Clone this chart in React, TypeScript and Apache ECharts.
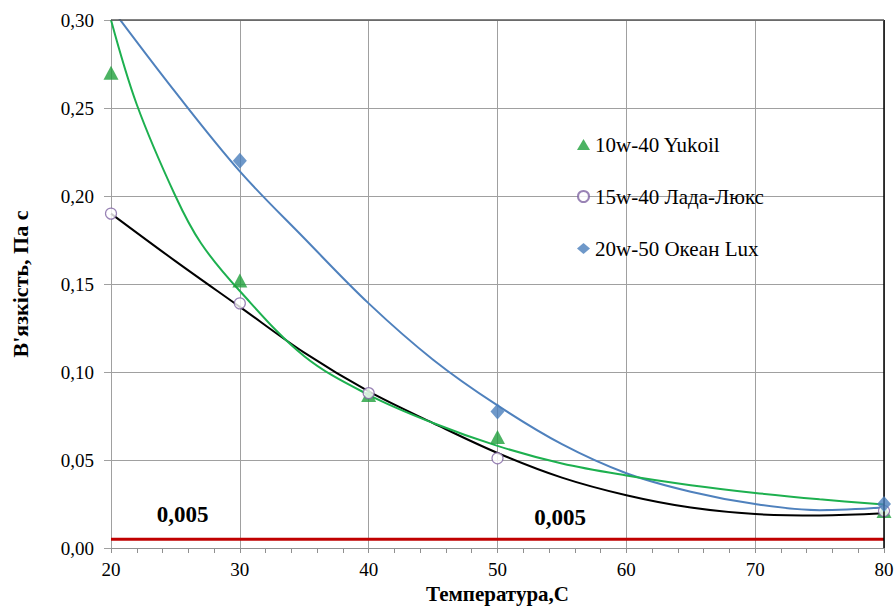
import React, { useEffect, useRef } from "react";
import * as echarts from "echarts";

// Measured points
const temps = [20, 30, 40, 50, 80];
const yukoil = [0.27, 0.152, 0.087, 0.063, 0.021];
const ladaLux = [0.19, 0.139, 0.088, 0.051, 0.021];
const okeanTemps = [30, 50, 80];
const okeanLux = [0.22, 0.0775, 0.025];

// Trend lines
const yukoilTrendTemps = [20, 22, 25, 27, 30, 35, 40, 45, 50, 55, 60, 65, 70, 75, 80];
const yukoilTrend = [0.3, 0.252, 0.2, 0.173, 0.146, 0.109, 0.087, 0.071, 0.058, 0.048, 0.0412, 0.0357, 0.0313, 0.0277, 0.0247];
const trendTemps = [20, 25, 30, 35, 40, 45, 50, 55, 60, 65, 70, 75, 80];
const ladaTrend = [0.19, 0.163, 0.137, 0.111, 0.089, 0.071, 0.054, 0.04, 0.03, 0.023, 0.0193, 0.0185, 0.0197];
const okeanTrend = [0.307, 0.259, 0.214, 0.176, 0.139, 0.107, 0.081, 0.059, 0.0425, 0.032, 0.025, 0.0215, 0.023];

const limitValue = 0.005;
const seriesNames = ["10w-40 Yukoil", "15w-40 Лада-Люкс", "20w-50 Океан Lux"];
const xTitle = "Температура,С";
const yTitle = "В'язкість, Па с";

const SERIF = "Liberation Serif";

const zip = (xs: number[], ys: number[]) => xs.map((x, i) => [x, ys[i]]);

export default function App() {
  const ref = useRef<HTMLDivElement>(null);
  useEffect(() => {
    document.body.style.margin = "0";
    const chart = echarts.init(ref.current!, null, { renderer: "svg" });
    const trendBase = {
      type: "line",
      showSymbol: false,
      smooth: 0.35,
      clip: true,
      silent: true,
      z: 2,
    };
    chart.setOption({
      animation: false,
      textStyle: { fontFamily: SERIF },
      grid: {
        left: 111,
        right: 12,
        top: 20,
        bottom: 59,
        containLabel: false,
        outerBoundsMode: "none",
      },
      legend: {
        orient: "vertical",
        left: 572,
        top: 129,
        itemGap: 31,
        itemWidth: 13,
        itemHeight: 11,
        data: seriesNames,
        textStyle: { fontFamily: SERIF, fontSize: 21, color: "#000" },
      },
      xAxis: {
        type: "value",
        min: 20,
        max: 80,
        interval: 10,
        name: xTitle,
        nameLocation: "middle",
        nameGap: 35,
        nameTextStyle: { fontFamily: SERIF, fontSize: 21, fontWeight: "bold", color: "#000", lineHeight: 21 },
        axisLine: { show: true, lineStyle: { color: "#909090", width: 1 } },
        axisTick: { show: true, length: 5, lineStyle: { color: "#909090" } },
        minorTick: { show: true, splitNumber: 5, length: 5, lineStyle: { color: "#909090", width: 1 } },
        axisLabel: { fontFamily: SERIF, fontSize: 19, color: "#000", margin: 12 },
        splitLine: { show: true, lineStyle: { color: "#a0a0a0", width: 1 } },
      },
      yAxis: {
        type: "value",
        min: 0,
        max: 0.3,
        interval: 0.05,
        name: yTitle,
        nameLocation: "middle",
        nameGap: 80,
        nameTextStyle: { fontFamily: SERIF, fontSize: 22, fontWeight: "bold", color: "#000" },
        axisLine: { show: true, lineStyle: { color: "#a0a0a0", width: 1 } },
        axisTick: { show: true, length: 7, lineStyle: { color: "#a0a0a0" } },
        axisLabel: {
          fontFamily: SERIF,
          fontSize: 19,
          color: "#000",
          margin: 17,
          formatter: (v: number) => v.toFixed(2).replace(".", ","),
        },
        splitLine: { show: true, lineStyle: { color: "#a0a0a0", width: 1 } },
      },
      series: [
        {
          type: "line",
          name: "limit",
          data: [
            [temps[0], limitValue],
            [temps[temps.length - 1], limitValue],
          ],
          showSymbol: false,
          silent: true,
          lineStyle: { color: "#c00000", width: 3 },
          z: 1,
          markLine: {
            silent: true,
            symbol: ["none", "none"],
            label: { show: false },
            data: [
              { xAxis: 80, lineStyle: { color: "#000", width: 1.5, type: "solid" } },
              { yAxis: 0.3, lineStyle: { color: "#595959", width: 1.5, type: "solid" } },
            ],
          },
          markPoint: {
            silent: true,
            symbol: "circle",
            symbolSize: 1,
            itemStyle: { color: "rgba(0,0,0,0)" },
            label: {
              show: true,
              position: "inside",
              formatter: "0,005",
              fontFamily: SERIF,
              fontSize: 23,
              fontWeight: "bold",
              color: "#000",
            },
            data: [{ coord: [25.55, 0.0189] }, { coord: [54.86, 0.0172] }],
          },
        },
        { ...trendBase, data: zip(trendTemps, okeanTrend), lineStyle: { color: "#4f81bd", width: 2 } },
        { ...trendBase, data: zip(trendTemps, ladaTrend), lineStyle: { color: "#000", width: 2 } },
        { ...trendBase, data: zip(yukoilTrendTemps, yukoilTrend), lineStyle: { color: "#1db04f", width: 2 } },
        {
          type: "scatter",
          name: seriesNames[0],
          data: zip(temps, yukoil),
          symbol: "triangle",
          symbolSize: [15, 14],
          itemStyle: { color: "#1fa03c" },
          z: 3,
        },
        {
          type: "scatter",
          name: seriesNames[1],
          data: zip(temps, ladaLux),
          symbol: "circle",
          symbolSize: 11,
          itemStyle: { color: "#fff", borderColor: "#8064a2", borderWidth: 1.2 },
          z: 4,
        },
        {
          type: "scatter",
          name: seriesNames[2],
          data: zip(okeanTemps, okeanLux),
          symbol: "diamond",
          symbolSize: [14, 16],
          itemStyle: { color: "#4a7ebb" },
          z: 5,
        },
      ],
    });
    return () => chart.dispose();
  }, []);
  return <div ref={ref} style={{ width: 896, height: 607 }} />;
}
